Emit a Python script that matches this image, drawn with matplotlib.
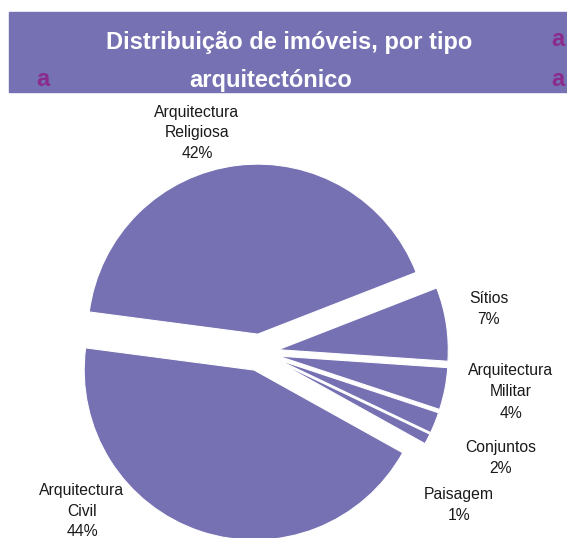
import matplotlib

matplotlib.use("Agg")
import matplotlib.pyplot as plt
from matplotlib.patches import Rectangle

# data
categories = ["Arquitectura\nReligiosa", "Sítios", "Arquitectura\nMilitar",
              "Conjuntos", "Paisagem", "Arquitectura\nCivil"]
shares = [42, 7, 4, 2, 1, 44]
title_lines = ["Distribuição de imóveis, por tipo", "arquitectónico"]

W, H = 567, 538
PURPLE = "#7571b3"
STRAY = "#8c2b8e"

plt.rcParams["font.family"] = ["Liberation Sans", "DejaVu Sans"]

fig = plt.figure(figsize=(W / 100, H / 100), dpi=100)
ax = fig.add_axes([0, 0, 1, 1])

# pie centre / radius in pixel units (y measured from the bottom)
cx, cy, r = 260, H - 352.5, 170
ax.pie(
    shares,
    startangle=172.5,
    counterclock=False,
    colors=[PURPLE] * len(shares),
    explode=[18.5] * len(shares),  # absolute offset, same units as radius
    center=(cx, cy),
    radius=r,
    wedgeprops=dict(edgecolor="white", linewidth=0.8),
)
ax.set_xlim(0, W)
ax.set_ylim(0, H)
ax.set_aspect("equal")
ax.axis("off")

# slice labels (pixel positions of the text block centres)
label_pos = [(197, 133), (489, 309), (511, 392), (501, 458), (459, 505), (82, 511)]
for name, val, (x, y) in zip(categories, shares, label_pos):
    ax.text(x, H - y, f"{name}\n{val}%", ha="center", va="center",
            fontsize=11.3, color="#1a1a1a", linespacing=1.5)

# title band
fig.patches.append(Rectangle((9 / W, 1 - 92 / H), (W - 9) / W, 80 / H,
                             transform=fig.transFigure, color=PURPLE, zorder=0))
fig.text(289 / W, 1 - 42 / H, title_lines[0], ha="center", va="center",
         color="white", fontsize=17, fontweight="bold")
fig.text(271 / W, 1 - 80 / H, title_lines[1], ha="center", va="center",
         color="white", fontsize=17, fontweight="bold")
# stray letters from the source sheet, tucked against the right edge
for x, y in [(43, 80), (558, 40), (558, 80)]:
    fig.text(x / W, 1 - y / H, "a", ha="center", va="center",
             color=STRAY, fontsize=17, fontweight="bold")

fig.savefig("out.png", dpi=100)
